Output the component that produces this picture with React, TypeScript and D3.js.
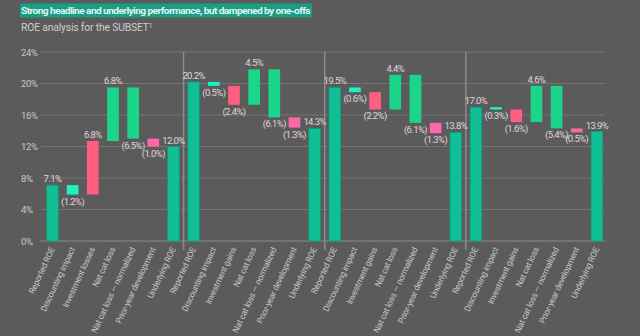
import React from "react";
import * as d3 from "d3";

const panels = ["P1", "P2", "P3", "P4"];
const categories = [
  ["Reported ROE", "Discounting impact", "Investment losses", "Nat cat loss", "Nat cat loss — normalized", "Prior-year development", "Underlying ROE"],
  ["Reported ROE", "Discounting impact", "Investment gains", "Nat cat loss", "Nat cat loss — normalized", "Prior-year development", "Underlying ROE"],
  ["Reported ROE", "Discounting impact", "Investment gains", "Nat cat loss", "Nat cat loss — normalized", "Prior-year development", "Underlying ROE"],
  ["Reported ROE", "Discounting impact", "Investment gains", "Nat cat loss", "Nat cat loss — normalized", "Prior-year development", "Underlying ROE"],
];
const reported = [7.1, 20.2, 19.5, 17.0];
const discounting = [-1.2, -0.5, -0.6, -0.3];
const investment = [6.8, -2.4, -2.2, -1.6];
const natCat = [6.8, 4.5, 4.4, 4.6];
const natCatNorm = [-6.5, -6.1, -6.1, -5.4];
const priorYear = [-1.0, -1.3, -1.3, -0.5];
const underlying = [12.0, 14.3, 13.8, 13.9];
const yTicks = [0, 4, 8, 12, 16, 20, 24];
const kinds = ["total", "disc", "inv", "cat", "cat", "prior", "total"];

const colors: Record<string, string> = {
  total: "#10bf95",
  disc: "#1cf2c2",
  inv: "#ff5e80",
  cat: "#1bd58a",
  prior: "#ff68a8",
};

const fmt = (v: number) => (v < 0 ? `(${Math.abs(v).toFixed(1)}%)` : `${v.toFixed(1)}%`);

export default function App() {
  const W = 640, H = 336;
  const x0 = 42.4, x1 = 607;
  const y = d3.scaleLinear().domain([0, 24]).range([241, 52]);
  const keys: string[] = [];
  panels.forEach((p, pi) => categories[pi].forEach((c, ci) => keys.push(`${p}-${ci}`)));
  const x = d3.scaleBand<string>().domain(keys).range([x0, x1]).paddingInner(0.42).paddingOuter(0.21);
  const step = x.step();

  type Bar = { key: string; lo: number; hi: number; v: number; kind: string; label: string };
  const bars: Bar[] = [];
  panels.forEach((p, pi) => {
    const deltas = [discounting[pi], investment[pi], natCat[pi], natCatNorm[pi], priorYear[pi]];
    bars.push({ key: `${p}-0`, lo: 0, hi: reported[pi], v: reported[pi], kind: "total", label: categories[pi][0] });
    let cur = reported[pi];
    deltas.forEach((d, di) => {
      const nxt = cur + d;
      bars.push({ key: `${p}-${di + 1}`, lo: Math.min(cur, nxt), hi: Math.max(cur, nxt), v: d, kind: kinds[di + 1], label: categories[pi][di + 1] });
      cur = nxt;
    });
    bars.push({ key: `${p}-6`, lo: 0, hi: underlying[pi], v: underlying[pi], kind: "total", label: categories[pi][6] });
  });

  const font = "Roboto, 'DejaVu Sans', sans-serif";
  const seps = [1, 2, 3].map((i) => x0 + step * 7 * i);

  return (
    <svg width={W} height={H} style={{ position: "absolute", left: 0, top: 0, background: "#5b5b5b" }} fontFamily={font}>
      <rect x={0} y={0} width={W} height={H} fill="#5b5b5b" />
      <rect x={20} y={3.5} width={292} height={14} fill="#179e86" />
      <text x={21} y={14} fontSize={9.6} fontWeight={700} fill="#e6f2ee" letterSpacing={-0.55}
        textLength={289} lengthAdjust="spacingAndGlyphs">
        Strong headline and underlying performance, but dampened by one-offs
      </text>
      <text x={21} y={31} fontSize={10.3} fill="#cfcfcf" letterSpacing={-0.15}>
        ROE analysis for the SUBSET<tspan fontSize={6.5} dy={-3.5}>1</tspan>
      </text>
      {yTicks.map((t) => (
        <g key={t}>
          {t > 0 && <line x1={40.5} x2={605} y1={y(t)} y2={y(t)} stroke="#747474" strokeWidth={1} />}
          <text x={21} y={y(t) + 3.5} fontSize={9.5} fill="#c9c9c9" letterSpacing={-0.4}>{t}%</text>
        </g>
      ))}
      <line x1={40.5} x2={605} y1={241} y2={241} stroke="#8c8c8c" strokeWidth={1} />
      {seps.map((s, i) => (
        <line key={i} x1={s} x2={s} y1={52} y2={250} stroke="#8c8c8c" strokeWidth={1.5} />
      ))}
      {bars.map((b) => {
        const bx = x(b.key)!;
        const bw = x.bandwidth();
        const top = y(b.hi), bot = y(b.lo);
        const h = Math.max(1.5, bot - top);
        const isTotal = b.kind === "total";
        const cx = bx + bw / 2;
        const labelAbove = b.v >= 0;
        return (
          <g key={b.key}>
            <rect x={bx} y={top} width={bw} height={h} fill={colors[b.kind]}
              stroke={isTotal ? "#0b9a78" : "none"} strokeWidth={isTotal ? 0.8 : 0} />
            <text x={cx} y={labelAbove ? top - 3 : top + h + 10} fontSize={9.5} textAnchor="middle"
              fill="#e0d4dc" letterSpacing={-0.6}>{fmt(b.v)}</text>
            <text transform={`translate(${cx + 2.5},${249}) rotate(-65)`} fontSize={8.5} textAnchor="end"
              fill="#c8c8c8" letterSpacing={-0.2}>{b.label}</text>
          </g>
        );
      })}
    </svg>
  );
}
